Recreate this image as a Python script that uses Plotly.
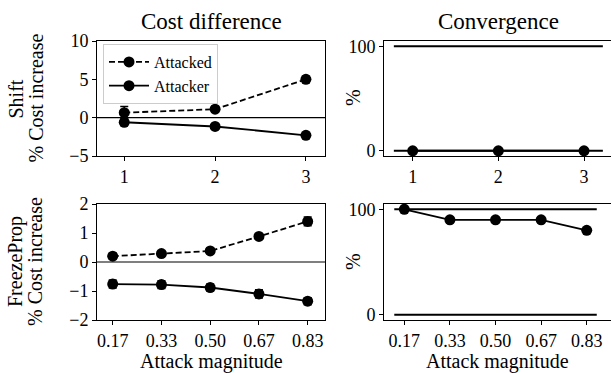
import plotly.graph_objects as go

# ---------------- data ----------------
shift_x = [1, 2, 3]
shift_tick_labels = ["1", "2", "3"]
shift_attacked = [0.65, 1.1, 5.0]
shift_attacked_err = [0.8, 0.35, 0.4]
shift_attacker = [-0.6, -1.15, -2.3]
shift_attacker_err = [0.35, 0.3, 0.35]
shift_convergence = [0, 0, 0]

freeze_x = [0.1667, 0.3333, 0.5, 0.6667, 0.8333]
freeze_tick_labels = ["0.17", "0.33", "0.50", "0.67", "0.83"]
freeze_attacked = [0.2, 0.29, 0.38, 0.88, 1.4]
freeze_attacked_err = [0.1, 0.08, 0.09, 0.08, 0.15]
freeze_attacker = [-0.76, -0.78, -0.88, -1.1, -1.35]
freeze_attacker_err = [0.14, 0.13, 0.12, 0.14, 0.12]
freeze_convergence = [100, 90, 90, 90, 80]

conv_ref_levels = [0, 100]

# ---------------- layout helpers ----------------
W, H = 611, 373
FONT = "Liberation Serif"


def px_x(p):
    return p / W


def px_y(p):
    return 1 - p / H


fig = go.Figure()


def err(vals):
    return dict(type="data", array=vals, visible=True, color="black",
                thickness=1.5, width=4)


marker = dict(symbol="circle", size=11, color="black")

fig.add_trace(go.Scatter(x=shift_x, y=shift_attacked, error_y=err(shift_attacked_err),
                         mode="lines+markers", name="Attacked", marker=marker,
                         line=dict(color="black", width=1.8, dash="6px,3px"),
                         xaxis="x", yaxis="y", showlegend=True))
fig.add_trace(go.Scatter(x=shift_x, y=shift_attacker, error_y=err(shift_attacker_err),
                         mode="lines+markers", name="Attacker", marker=marker,
                         line=dict(color="black", width=1.8),
                         xaxis="x", yaxis="y", showlegend=True))
fig.add_trace(go.Scatter(x=shift_x, y=shift_convergence, mode="lines+markers",
                         marker=marker, line=dict(color="black", width=1.8),
                         xaxis="x2", yaxis="y2", showlegend=False))
fig.add_trace(go.Scatter(x=freeze_x, y=freeze_attacked, error_y=err(freeze_attacked_err),
                         mode="lines+markers", marker=marker,
                         line=dict(color="black", width=1.8, dash="6px,3px"),
                         xaxis="x3", yaxis="y3", showlegend=False))
fig.add_trace(go.Scatter(x=freeze_x, y=freeze_attacker, error_y=err(freeze_attacker_err),
                         mode="lines+markers", marker=marker,
                         line=dict(color="black", width=1.8),
                         xaxis="x3", yaxis="y3", showlegend=False))
fig.add_trace(go.Scatter(x=freeze_x, y=freeze_convergence, mode="lines+markers",
                         marker=marker, line=dict(color="black", width=1.8),
                         xaxis="x4", yaxis="y4", showlegend=False))

shapes = []
for xr, yr in [("x", "y"), ("x3", "y3")]:
    shapes.append(dict(type="line", xref=f"{xr} domain", yref=yr, x0=0, x1=1, y0=0, y1=0,
                       line=dict(color="black", width=1.2), layer="below"))
for xs, xr, yr in [(shift_x, "x2", "y2"), (freeze_x, "x4", "y4")]:
    step = xs[1] - xs[0]
    for lvl in conv_ref_levels:
        shapes.append(dict(type="line", xref=xr, yref=yr,
                           x0=xs[0] - 0.22 * step, x1=xs[-1] + 0.22 * step,
                           y0=lvl, y1=lvl, line=dict(color="black", width=1.8),
                           layer="below"))

tickfont = dict(family=FONT, size=18, color="black")
common = dict(showline=True, linecolor="black", linewidth=1, ticks="outside",
              ticklen=4, tickwidth=1, tickcolor="black", showgrid=False,
              zeroline=False, tickfont=tickfont, automargin=False)

L = [px_x(97), px_x(325)]
R = [px_x(384), 1.0]
TOP = [px_y(156), px_y(41)]
BOT = [px_y(320), px_y(204)]

fig.update_layout(
    width=W, height=H, margin=dict(l=0, r=0, t=0, b=0, pad=0, autoexpand=False),
    plot_bgcolor="white", paper_bgcolor="white",
    font=dict(family=FONT, color="black"),
    xaxis=dict(domain=L, anchor="y", range=[0.70, 3.21], tickvals=shift_x,
               ticktext=shift_tick_labels, mirror=True, **common),
    yaxis=dict(domain=TOP, anchor="x", range=[-5, 10], tickvals=[-5, 0, 5, 10],
               ticktext=["\u22125", "0", "5", "10"], mirror=True, **common),
    xaxis2=dict(domain=R, anchor="y2", range=[0.665, 3.315], tickvals=shift_x,
                ticktext=shift_tick_labels, mirror=True, **common),
    yaxis2=dict(domain=TOP, anchor="x2", range=[-5, 105], tickvals=[0, 100],
                mirror=False, **common),
    xaxis3=dict(domain=L, anchor="y3", range=[0.113, 0.8925], tickvals=freeze_x,
                ticktext=freeze_tick_labels, mirror=True, **common),
    yaxis3=dict(domain=BOT, anchor="x3", range=[-2, 2], tickvals=[-2, -1, 0, 1, 2],
                ticktext=["\u22122", "\u22121", "0", "1", "2"], mirror=True, **common),
    xaxis4=dict(domain=R, anchor="y4", range=[0.0925, 0.922], tickvals=freeze_x,
                ticktext=freeze_tick_labels, mirror=True, **common),
    yaxis4=dict(domain=BOT, anchor="x4", range=[-5, 105], tickvals=[0, 100],
                mirror=False, **common),
    shapes=shapes,
    legend=dict(x=px_x(103), y=px_y(44), xanchor="left", yanchor="top",
                bgcolor="rgba(255,255,255,0.85)", bordercolor="#cccccc", borderwidth=1,
                font=dict(family=FONT, size=16, color="black"), tracegroupgap=0,
                itemwidth=40),
)

ann_font = dict(family=FONT, size=20, color="black")
title_font = dict(family=FONT, size=23, color="black")
annotations = [
    dict(text="Cost difference", x=px_x(211), y=px_y(21), font=title_font),
    dict(text="Convergence", x=px_x(498), y=px_y(21), font=title_font),
    dict(text="Attack magnitude", x=px_x(211), y=px_y(361), font=ann_font),
    dict(text="Attack magnitude", x=px_x(497), y=px_y(361), font=ann_font),
    dict(text="Shift", x=px_x(15), y=px_y(98.5), font=ann_font, textangle=-90),
    dict(text="% Cost increase", x=px_x(35), y=px_y(98.5), font=ann_font, textangle=-90),
    dict(text="FreezeProp", x=px_x(15), y=px_y(262), font=ann_font, textangle=-90),
    dict(text="% Cost increase", x=px_x(35), y=px_y(262), font=ann_font, textangle=-90),
    dict(text="%", x=px_x(353), y=px_y(98), font=ann_font, textangle=-90),
    dict(text="%", x=px_x(353), y=px_y(262), font=ann_font, textangle=-90),
]
for a in annotations:
    a.update(xref="paper", yref="paper", showarrow=False, xanchor="center", yanchor="middle")
fig.update_layout(annotations=annotations)

fig.write_html("out.html", config={"displayModeBar": False},
               post_script="document.body.style.margin='0px';")
